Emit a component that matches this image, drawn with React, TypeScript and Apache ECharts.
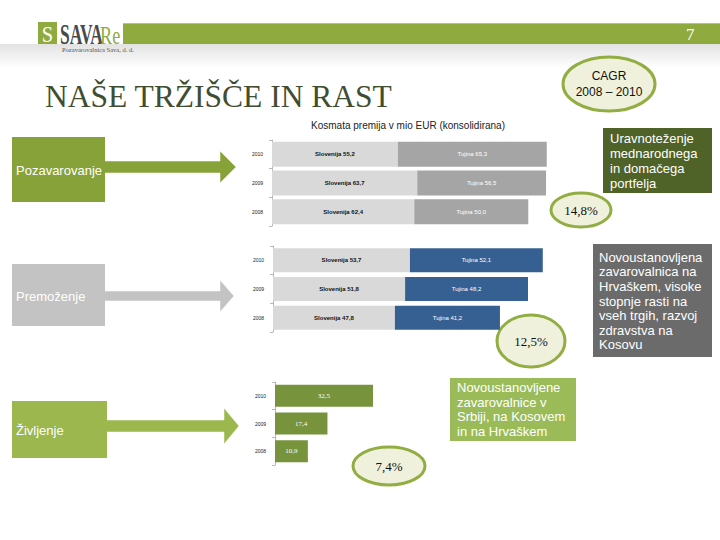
import React, { useEffect, useRef } from "react";
import * as echarts from "echarts";

const years = ["2008", "2009", "2010"];
const reinsSlo = [62.4, 63.7, 55.2];
const reinsTuj = [50.0, 56.5, 65.3];
const nonlifeSlo = [47.8, 51.8, 53.7];
const nonlifeTuj = [41.2, 48.2, 52.1];
const life = [10.9, 17.4, 32.5];
const segments = ["Pozavarovanje", "Premoženje", "Življenje"];
const cagrs = ["14,8%", "12,5%", "7,4%"];
const notes = [
  "Uravnoteženje\nmednarodnega\nin domačega\nportfelja",
  "Novoustanovljena\nzavarovalnica na\nHrvaškem, visoke\nstopnje rasti na\nvseh trgih, razvoj\nzdravstva na\nKosovu",
  "Novoustanovljene\nzavarovalnice v\nSrbiji, na Kosovem\nin na Hrvaškem",
];
const title = "NAŠE TRŽIŠČE IN RAST";
const subtitle = "Kosmata premija v mio EUR (konsolidirana)";

const fmt = (v: number) => v.toFixed(1).replace(".", ",");

function arrow(x0: number, x1: number, tip: number, cy: number, sh: number, hh: number, color: string) {
  return {
    type: "polygon",
    shape: {
      points: [
        [x0, cy - sh], [x1, cy - sh], [x1, cy - hh], [tip, cy], [x1, cy + hh], [x1, cy + sh], [x0, cy + sh],
      ],
    },
    style: { fill: color, stroke: "#ffffff", lineWidth: 0.5 },
  };
}

function box(x: number, y: number, w: number, h: number, fill: string, text: string, tx: number, ty: number, lh: number) {
  return [
    { type: "rect", shape: { x, y, width: w, height: h }, style: { fill } },
    {
      type: "text",
      x: tx,
      y: ty,
      style: { text, fill: "#ffffff", fontSize: 13, fontFamily: "Arial, Liberation Sans", lineHeight: lh, textVerticalAlign: "top" },
    },
  ];
}

function ell(cx: number, cy: number, rx: number, ry: number, text: string, font: string, size: number, lh: number) {
  return [
    { type: "ellipse", shape: { cx, cy, rx, ry }, style: { fill: "#eff1dd", stroke: "#92ad42", lineWidth: 3 } },
    {
      type: "text",
      x: cx,
      y: cy,
      style: { text, fill: "#111", fontSize: size, fontFamily: font, align: "center", verticalAlign: "middle", lineHeight: lh },
    },
  ];
}

const yAxisBase = (gi: number, labelFont: number) => ({
  type: "category",
  gridIndex: gi,
  data: years,
  axisLine: { show: true, lineStyle: { color: "#b8b8b8", width: 1 } },
  axisTick: { show: true, length: 3, lineStyle: { color: "#b8b8b8" } },
  axisLabel: { fontSize: labelFont, color: "#222", margin: 9, fontFamily: "Arial" },
});

export default function App() {
  const ref = useRef<HTMLDivElement>(null);
  useEffect(() => {
    if (!ref.current) return;
    const chart = echarts.init(ref.current, null, { renderer: "svg" });
    const graphics: any[] = [
      // header band
      {
        type: "rect",
        shape: { x: 0, y: 44, width: 720, height: 24 },
        style: {
          fill: new echarts.graphic.LinearGradient(0, 0, 0, 1, [
            { offset: 0, color: "#e2e2e2" },
            { offset: 1, color: "#ffffff" },
          ]),
        },
      },
      { type: "rect", shape: { x: 123, y: 23, width: 597, height: 21 }, style: { fill: "#8fab3f" } },
      { type: "line", shape: { x1: 123, y1: 23.5, x2: 720, y2: 23.5 }, style: { stroke: "#b5ca78", lineWidth: 1 } },
      { type: "text", x: 686, y: 34, style: { text: "7", fill: "#ffffff", fontSize: 17, fontFamily: "Liberation Serif, serif", verticalAlign: "middle" } },
      // logo
      { type: "rect", shape: { x: 38, y: 22, width: 19, height: 22 }, style: { fill: "#8fab3f" } },
      { type: "text", x: 47.5, y: 34, scaleX: 0.85, style: { text: "S", fill: "#ffffff", fontSize: 24, fontFamily: "Liberation Serif, serif", align: "center", verticalAlign: "middle" } },
      { type: "text", x: 60, y: 34, scaleX: 0.6, style: { text: "SAVA", fill: "#4a4a4a", fontSize: 29, fontWeight: "bold", fontFamily: "Liberation Serif, serif", verticalAlign: "middle" } },
      { type: "text", x: 100, y: 35, scaleX: 0.7, style: { text: "Re", fill: "#8fab3f", fontSize: 26, fontFamily: "Liberation Serif, serif", verticalAlign: "middle" } },
      { type: "text", x: 62, y: 49, style: { text: "Pozavarovalnica Sava, d. d.", fill: "#555", fontSize: 6.5, fontFamily: "Liberation Serif, serif", verticalAlign: "middle" } },
      // title
      { type: "text", x: 45, y: 96, style: { text: title, fill: "#3f4d30", fontSize: 31.5, fontFamily: "Liberation Serif, Times New Roman, serif", verticalAlign: "middle" } },
      { type: "text", x: 408, y: 125, style: { text: subtitle, fill: "#222", fontSize: 10, fontFamily: "Arial, Liberation Sans", align: "center", verticalAlign: "middle" } },
      // CAGR ellipse
      ...ell(609, 84, 46, 27, "CAGR\n2008 – 2010", "Arial, Liberation Sans", 12, 16),
      // segment boxes and arrows
      arrow(104, 220, 236, 167, 6, 16, "#87a238"),
      { type: "rect", shape: { x: 12, y: 137, width: 93, height: 65 }, style: { fill: "#87a238" } },
      { type: "text", x: 16, y: 170, style: { text: segments[0], fill: "#ffffff", fontSize: 13, fontFamily: "Arial, Liberation Sans", verticalAlign: "middle" } },
      arrow(104, 220, 234, 296, 5, 16, "#c3c3c3"),
      { type: "rect", shape: { x: 12, y: 264, width: 93, height: 62 }, style: { fill: "#c3c3c3" } },
      { type: "text", x: 16, y: 296, style: { text: segments[1], fill: "#ffffff", fontSize: 13, fontFamily: "Arial, Liberation Sans", verticalAlign: "middle" } },
      arrow(106, 224, 239, 426, 6, 18, "#9bb74d"),
      { type: "rect", shape: { x: 12, y: 401, width: 95, height: 57 }, style: { fill: "#9bb74d" } },
      { type: "text", x: 16, y: 430, style: { text: segments[2], fill: "#ffffff", fontSize: 13, fontFamily: "Arial, Liberation Sans", verticalAlign: "middle" } },
      // notes
      ...box(603, 128, 109, 65, "#4f6228", notes[0], 610, 131, 15),
      ...box(593, 244, 119, 113, "#6b6b6b", notes[1], 599, 250, 14.6),
      ...box(450, 378, 126, 63, "#9bbb59", notes[2], 457, 380, 14.7),
      // CAGR values
      ...ell(581, 210, 30, 17, cagrs[0], "Liberation Serif, serif", 13, 14),
      ...ell(531, 341, 34, 26, cagrs[1], "Liberation Serif, serif", 13, 14),
      ...ell(389, 466, 36, 19, cagrs[2], "Liberation Serif, serif", 13, 14),
    ];

    const sloLabel = (name: string) => ({
      show: true,
      position: "inside",
      fontSize: 6,
      fontWeight: "bold",
      color: "#111",
      fontFamily: "Arial",
      formatter: (p: any) => `${name} ${fmt(p.value)}`,
    });
    const tujLabel = {
      show: true,
      position: "inside",
      fontSize: 6,
      color: "#ffffff",
      fontFamily: "Arial",
      formatter: (p: any) => `Tujina ${fmt(p.value)}`,
    };

    chart.setOption({
      animation: false,
      backgroundColor: "#ffffff",
      grid: [
        { left: 272, top: 140, width: 130 * 2.28, height: 86 },
        { left: 273, top: 246, width: 120 * 2.55, height: 86 },
        { left: 275, top: 382, width: 40 * 3.015, height: 83 },
      ],
      xAxis: [
        { type: "value", gridIndex: 0, min: 0, max: 130, show: false },
        { type: "value", gridIndex: 1, min: 0, max: 120, show: false },
        { type: "value", gridIndex: 2, min: 0, max: 40, show: false },
      ],
      yAxis: [yAxisBase(0, 5), yAxisBase(1, 5), yAxisBase(2, 5)],
      series: [
        { type: "bar", xAxisIndex: 0, yAxisIndex: 0, stack: "a", data: reinsSlo, barWidth: 25, itemStyle: { color: "#d9d9d9" }, label: sloLabel("Slovenija") },
        { type: "bar", xAxisIndex: 0, yAxisIndex: 0, stack: "a", data: reinsTuj, barWidth: 25, itemStyle: { color: "#a5a5a5" }, label: tujLabel },
        { type: "bar", xAxisIndex: 1, yAxisIndex: 1, stack: "b", data: nonlifeSlo, barWidth: 24, itemStyle: { color: "#d9d9d9" }, label: sloLabel("Slovenija") },
        { type: "bar", xAxisIndex: 1, yAxisIndex: 1, stack: "b", data: nonlifeTuj, barWidth: 24, itemStyle: { color: "#376092" }, label: tujLabel },
        {
          type: "bar", xAxisIndex: 2, yAxisIndex: 2, data: life, barWidth: 22, itemStyle: { color: "#77933c" },
          label: { show: true, position: "inside", fontSize: 7, color: "#ffffff", fontFamily: "Liberation Serif, serif", formatter: (p: any) => fmt(p.value) },
        },
      ],
      graphic: graphics,
    });
    return () => chart.dispose();
  }, []);
  return <div ref={ref} style={{ position: "fixed", left: 0, top: 0, width: 720, height: 540 }} />;
}
